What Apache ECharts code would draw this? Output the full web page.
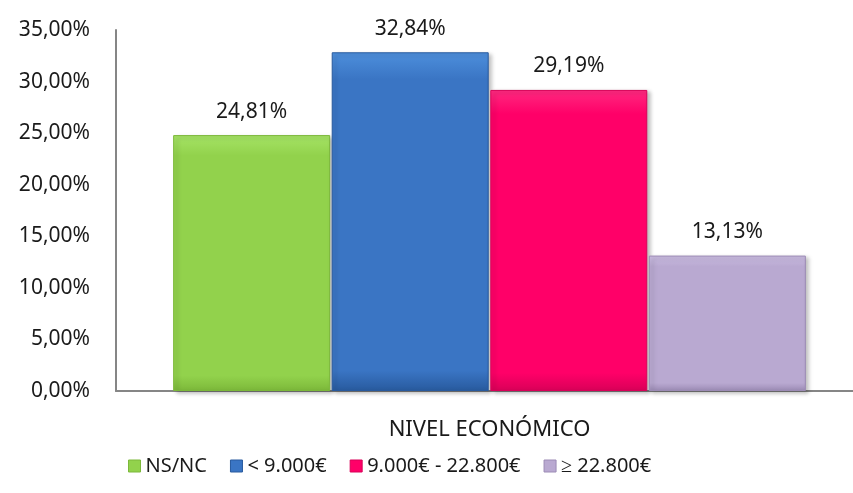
<!DOCTYPE html>
<html>
<head>
<meta charset="utf-8">
<script src="https://cdn.jsdelivr.net/npm/echarts@6/dist/echarts.min.js"></script>
<style>
	html, body { margin: 0; padding: 0; background: #fff; }
	#chart { width: 853px; height: 493px; }
</style>
</head>
<body>
<div id="chart"></div>
<script>
var categories = ['NIVEL ECONÓMICO'];
var seriesNames = ['NS/NC', '< 9.000€', '9.000€ - 22.800€', '≥ 22.800€'];
var seriesValues = [24.81, 32.84, 29.19, 13.13];
var seriesColors = [
	['#a6e466', '#92d24c', '#7cb83a'],
	['#4d8fdc', '#3a75c4', '#285a9e'],
	['#ff2a80', '#ff0068', '#d90058'],
	['#cbbde2', '#b9a9d1', '#9c8bb5']
];

function fmt(v) {
	return v.toFixed(2).replace('.', ',') + '%';
}

var chart = echarts.init(document.getElementById('chart'));

var series = seriesNames.map(function(name, i) {
	var c = seriesColors[i];
	return {
		name: name,
		type: 'bar',
		data: [seriesValues[i]],
		barWidth: 157,
		barGap: '1%',
		itemStyle: {
			color: new echarts.graphic.LinearGradient(0, 0, 0, 1, [
				{offset: 0, color: c[0]},
				{offset: 0.08, color: c[1]},
				{offset: 0.94, color: c[1]},
				{offset: 1, color: c[2]}
			]),
			borderColor: c[2],
			borderWidth: 1,
			shadowColor: 'rgba(0,0,0,0.25)',
			shadowBlur: 4,
			shadowOffsetX: 3,
			shadowOffsetY: 2
		},
		label: {
			show: true,
			position: 'top',
			distance: 13,
			color: '#1a1a1a',
			fontSize: 21,
			fontFamily: 'Noto Sans',
			formatter: function(p) { return fmt(p.value); }
		}
	};
});

var option = {
	animation: false,
	grid: { left: 116, width: 747, top: 30, bottom: 102, outerBoundsMode: 'none' },
	legend: {
		bottom: 12,
		left: 123,
		itemWidth: 12,
		itemHeight: 12,
		itemGap: 23,
		textStyle: { fontSize: 20, color: '#1a1a1a', fontFamily: 'Noto Sans' },
		data: seriesNames.map(function(n, i) {
			return { name: n, icon: 'rect', itemStyle: { color: seriesColors[i][1], borderColor: seriesColors[i][2], borderWidth: 1, shadowBlur: 0, shadowOffsetX: 0, shadowOffsetY: 0 } };
		})
	},
	xAxis: {
		type: 'category',
		data: categories,
		axisLine: { lineStyle: { color: '#868686', width: 2 } },
		axisTick: { show: false },
		axisLabel: { color: '#1a1a1a', fontSize: 22, margin: 28, fontFamily: 'Noto Sans' }
	},
	yAxis: {
		type: 'value',
		min: 0,
		max: 35,
		interval: 5,
		axisLine: { show: true, lineStyle: { color: '#868686', width: 2 } },
		axisTick: { show: false },
		splitLine: { show: false },
		axisLabel: {
			color: '#1a1a1a',
			fontSize: 21,
			margin: 26,
			fontFamily: 'Noto Sans',
			formatter: function(v) { return fmt(v); }
		}
	},
	series: series
};

chart.setOption(option);
</script>
</body>
</html>
